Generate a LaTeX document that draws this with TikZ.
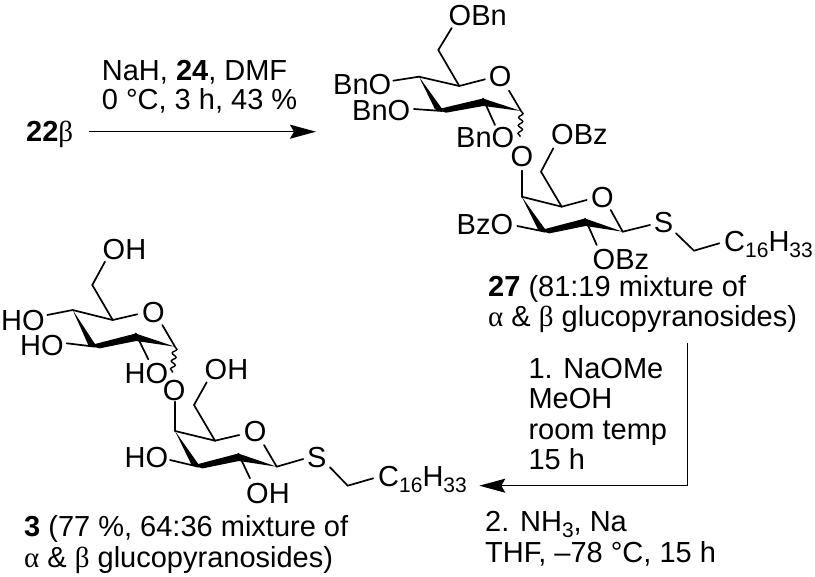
\documentclass[tikz,border=0pt]{standalone}
\usepackage{fontspec}
\setmainfont{Liberation Sans}
\newfontfamily\greekfont{Liberation Serif}
\usetikzlibrary{arrows.meta, calc, decorations.pathmorphing}
\newcommand{\gr}[1]{{\greekfont #1}}
\newcommand{\subs}[1]{\smash{\raisebox{-6pt}{\fontsize{21}{24}\selectfont #1}}}
\tikzset{
	txt/.style={anchor=base west, inner sep=0pt, font=\fontsize{29}{30}\selectfont},
	bond/.style={line width=1.7pt, line cap=round},
	wavybond/.style={line width=1.4pt, decorate, decoration={snake, amplitude=2.2pt, segment length=8pt}},
	reaction/.style={line width=1.4pt, -{Stealth[length=26pt, width=14pt, inset=4pt]}},
}

\begin{document}
\begin{tikzpicture}[x=1pt,y=-1pt]

	\useasboundingbox (0,0) rectangle (815,577);

	\coordinate (C1a) at (521,111);
	\coordinate (C2a) at (483,98.5);
	\coordinate (C3a) at (441.7,111);
	\coordinate (C4a) at (419,76.7);
	\coordinate (C5a) at (459.3,86);
	\coordinate (C6a) at (438.3,50);
	\coordinate (Oa) at (485,79.3);
	\coordinate (Ob) at (509,90.7);
	\coordinate (O4a) at (393.3,80.7);
	\coordinate (O3a) at (414,109);
	\coordinate (O2a) at (495,125);
	\coordinate (O6a) at (451.7,28);
	\coordinate (W1a) at (520,137);

	\coordinate (C1b) at (622.7,231.7);
	\coordinate (C2b) at (585,218.5);
	\coordinate (C3b) at (545,231.7);
	\coordinate (C4b) at (521.7,196.7);
	\coordinate (C5b) at (561.7,206.7);
	\coordinate (C6b) at (541,171.7);
	\coordinate (Oc) at (586.7,200);
	\coordinate (Od) at (610.7,210);
	\coordinate (O4b) at (521.7,170.7);
	\coordinate (O3b) at (517.3,226);
	\coordinate (O2b) at (596.7,245);
	\coordinate (O6b) at (553.3,148.3);
	\coordinate (S1b) at (650,225);
	\coordinate (S2b) at (676,233.3);
	\coordinate (CH2b) at (694,250.7);
	\coordinate (Rb) at (719.3,243.3);

	\coordinate (C1c) at (175,346.7);
	\coordinate (C2c) at (135.7,333.5);
	\coordinate (C3c) at (95,346.7);
	\coordinate (C4c) at (72.7,310);
	\coordinate (C5c) at (112.7,320);
	\coordinate (C6c) at (92.3,285);
	\coordinate (Oe) at (137.3,314.3);
	\coordinate (Of) at (162.3,325);
	\coordinate (O4c) at (47.3,315);
	\coordinate (O3c) at (66.7,343.3);
	\coordinate (O2c) at (148.3,359.3);
	\coordinate (O6c) at (105,261.7);
	\coordinate (W1c) at (172.3,372.7);

	\coordinate (C1d) at (276.7,466.7);
	\coordinate (C2d) at (238.3,453.5);
	\coordinate (C3d) at (198.3,466.7);
	\coordinate (C4d) at (175,431);
	\coordinate (C5d) at (215,440.7);
	\coordinate (C6d) at (194,405);
	\coordinate (Og) at (239.3,435);
	\coordinate (Oh) at (264,445);
	\coordinate (O4d) at (175,401.7);
	\coordinate (O3d) at (170,460);
	\coordinate (O2d) at (250,478.3);
	\coordinate (O6d) at (206.7,382.3);
	\coordinate (S1d) at (303.3,459);
	\coordinate (S2d) at (330,467.3);
	\coordinate (CH2d) at (347.7,485.7);
	\coordinate (Rd) at (373.3,478.3);

	\foreach \r in {a,b,c,d} {
		\fill (C4\r) -- ($(C3\r)+(-6.7,-1.7)$) -- ($(C3\r)+(4.3,1.7)$) -- ($(C2\r)+(0.5,7.5)$) -- (C1\r) -- (C2\r) -- ($(C3\r)+(0,-2.7)$) -- cycle;
		\draw [bond] (C4\r) -- (C5\r);
		\draw [bond] (C5\r) -- (C6\r) -- (O6\r);
		\draw [bond] (C4\r) -- (O4\r);
		\draw [bond] (C3\r) -- (O3\r);
		\draw [bond] (C2\r) -- (O2\r);
	}
	\draw [bond] (C5a) -- (Oa);
	\draw [bond] (Ob) -- (C1a);
	\draw [bond] (C5b) -- (Oc);
	\draw [bond] (Od) -- (C1b);
	\draw [bond] (C5c) -- (Oe);
	\draw [bond] (Of) -- (C1c);
	\draw [bond] (C5d) -- (Og);
	\draw [bond] (Oh) -- (C1d);
	\draw [bond] (C1b) -- (S1b);
	\draw [bond] (S2b) -- (CH2b) -- (Rb);
	\draw [bond] (C1d) -- (S1d);
	\draw [bond] (S2d) -- (CH2d) -- (Rd);
	\draw [wavybond] (C1a) -- (W1a);
	\draw [wavybond] (C1c) -- (W1c);

	\node [txt] (obna) at (448.5,25.5) {OBn};
	\node [txt] (ringa) at (488.7,87) {O};
	\node [txt] (bno4) at (333,94.8) {BnO};
	\node [txt] (bno3) at (352,121) {BnO};
	\node [txt] (bno2) at (456,148) {BnO};
	\node [txt] (linka) at (510.4,167) {O};

	\node [txt] (obzb) at (551,144.5) {OBz};
	\node [txt] (ringb) at (591,207.8) {O};
	\node [txt] (bzo3) at (456.5,234.2) {BzO};
	\node [txt] (obz2) at (592.5,269.5) {OBz};
	\node [txt] (sb) at (653.6,232.8) {S};
	\node [txt] (rb) at (724,251.5) {C\subs{16}H\subs{33}};

	\node [txt] (ohc) at (102.5,259.8) {OH};
	\node [txt] (ringc) at (142,323) {O};
	\node [txt] (ho4) at (1,330.2) {HO};
	\node [txt] (ho3) at (20,355.2) {HO};
	\node [txt] (ho2) at (124.5,383.5) {HO};
	\node [txt] (linkc) at (162.7,401) {O};

	\node [txt] (ohd) at (204.5,380) {OH};
	\node [txt] (ringd) at (243.7,442) {O};
	\node [txt] (ho3d) at (124.5,467.8) {HO};
	\node [txt] (oh2d) at (246,503.6) {OH};
	\node [txt] (sd) at (307,467.8) {S};
	\node [txt] (rd) at (378,486.5) {C\subs{16}H\subs{33}};

	\node [txt] (lab27a) at (488,296.7) {\textbf{27} (81:19 mixture of};
	\node [txt] (lab27b) at (488,326.7) {\gr{α} \& \gr{β} glucopyranosides)};
	\node [txt] (lab3a) at (24,536.7) {\textbf{3} (77 \%, 64:36 mixture of};
	\node [txt] (lab3b) at (24,567.3) {\gr{α} \& \gr{β} glucopyranosides)};

	\node [txt] (start) at (26,141.7) {\textbf{22}\gr{β}};
	\node [txt] (condt1) at (101.7,80.7) {NaH, \textbf{24}, DMF};
	\node [txt] (condt2) at (101.7,109.3) {0 °C, 3 h, 43 \%};
	\node [txt] (condr1) at (528.3,378.3) {1. NaOMe};
	\node [txt] (condr2) at (528.3,408.3) {MeOH};
	\node [txt] (condr3) at (528.3,439.3) {room temp};
	\node [txt] (condr4) at (528.3,469.3) {15 h};
	\node [txt] (condb1) at (485,531.7) {2. NH\subs{3}, Na};
	\node [txt] (condb2) at (485,562.3) {THF, –78 °C, 15 h};

	\coordinate (AT1) at (89.3,131.7);
	\coordinate (AT2) at (316,131.7);
	\coordinate (AB1) at (687.3,343.3);
	\coordinate (AB2) at (687.3,485.7);
	\coordinate (AB3) at (479.3,485.7);

	\draw [reaction] (AT1) -- (AT2);
	\draw [reaction] (AB1) -- (AB2) -- (AB3);

\end{tikzpicture}
\end{document}
